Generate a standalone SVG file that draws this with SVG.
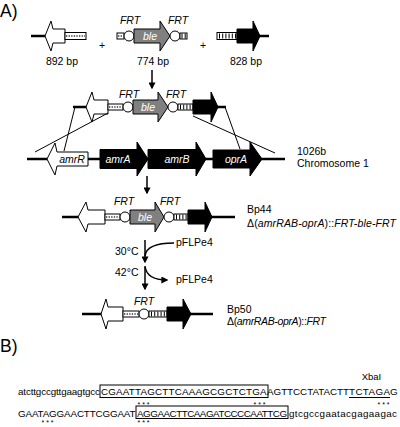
<svg xmlns="http://www.w3.org/2000/svg" width="400" height="427" viewBox="0 0 400 427">
<style>
.thick{stroke:#000;stroke-width:2.5;fill:none}
.thin{stroke:#000;stroke-width:1;fill:none}
.wh{fill:#fff;stroke:#000;stroke-width:1}
.bk{fill:#000;stroke:#000;stroke-width:1}
.gr{fill:#808080;stroke:#000;stroke-width:1}
.dots{stroke:#333;stroke-width:1.6;stroke-dasharray:1.3 1.3;fill:none}
.ladder{stroke:#000;stroke-width:5;stroke-dasharray:1 2.2;fill:none}
.arr{stroke:#000;stroke-width:1.5;fill:none}
text{font-family:"Liberation Sans",Arial,sans-serif;font-size:10.5px;fill:#000}
.it{font-style:italic}
.w{fill:#fff}
.mid{text-anchor:middle}
.big{font-size:17.5px}
.seq{font-size:9.8px}
.star{font-size:7px;text-anchor:middle}
</style>
<defs>
<marker id="ah" viewBox="0 0 10 10" refX="8" refY="5" markerWidth="7" markerHeight="7" markerUnits="userSpaceOnUse" orient="auto"><path d="M0,0 L10,5 L0,10 Z" fill="#000"/></marker>
</defs>

<text class="big" x="0" y="17">A)</text>

<g id="frag892">
<line class="thick" x1="31" y1="36" x2="47" y2="36"/>
<path class="wh" d="M65,29 L53,29 L51,21 L45,36 L51,51 L53,43 L65,43 Z"/>
<rect class="wh" x="65" y="32.5" width="21" height="7"/>
<line class="dots" x1="66" y1="36" x2="85" y2="36"/>
<text class="mid" x="62" y="65">892 bp</text>
</g>

<text class="mid" x="102" y="48.5">+</text>

<g id="frag774">
<rect class="wh" x="117" y="33" width="7" height="6"/>
<line class="dots" x1="118" y1="36" x2="123" y2="36"/>
<circle class="wh" cx="129" cy="36" r="5"/>
<path class="gr" d="M134,29 L160,29 L160,21 L170,36 L160,51 L160,43 L134,43 Z"/>
<circle class="wh" cx="175" cy="36" r="5"/>
<rect class="wh" x="180" y="33" width="7" height="6"/>
<line class="ladder" x1="181.5" y1="36" x2="187" y2="36"/>
<text class="it mid" x="130" y="24">FRT</text>
<text class="it mid" x="178" y="24">FRT</text>
<text class="it w mid" x="150" y="39.5">ble</text>
<text class="mid" x="153" y="65">774 bp</text>
</g>

<text class="mid" x="203" y="48.5">+</text>

<g id="frag828">
<rect class="wh" x="217" y="32.5" width="20" height="7"/>
<line class="ladder" x1="219" y1="36" x2="237" y2="36"/>
<path class="bk" d="M237,29 L253,29 L253,21 L260,36 L253,51 L253,43 L237,43 Z"/>
<line class="thick" x1="259" y1="36" x2="269" y2="36"/>
<text class="mid" x="246" y="65">828 bp</text>
</g>

<g id="construct">
<line class="thick" x1="73" y1="107" x2="88" y2="107"/>
<path class="wh" d="M108,100 L94,100 L92,92 L86,107 L92,122 L94,114 L108,114 Z"/>
<rect class="wh" x="108" y="104" width="15" height="6"/>
<line class="dots" x1="109" y1="107" x2="122" y2="107"/>
<circle class="wh" cx="128" cy="107" r="5"/>
<path class="gr" d="M133,100 L158,100 L158,92 L168,107 L158,122 L158,114 L133,114 Z"/>
<circle class="wh" cx="173" cy="107" r="5"/>
<rect class="wh" x="178" y="104" width="15" height="6"/>
<line class="ladder" x1="180" y1="107" x2="193" y2="107"/>
<path class="bk" d="M193,100 L211,100 L211,92 L218,107 L211,122 L211,114 L193,114 Z"/>
<line class="thick" x1="217" y1="107" x2="226" y2="107"/>
<text class="it mid" x="129" y="98">FRT</text>
<text class="it mid" x="176" y="98">FRT</text>
<text class="it w mid" x="148" y="110.5">ble</text>
</g>

<g id="connectors">
<line class="thin" x1="75" y1="107" x2="64" y2="151"/>
<line class="thin" x1="108" y1="113" x2="35" y2="152"/>
<line class="thin" x1="225" y1="107" x2="240" y2="149"/>
<line class="thin" x1="193" y1="116" x2="275" y2="153"/>
<line class="arr" x1="152" y1="70" x2="152" y2="88" marker-end="url(#ah)"/>
<line class="arr" x1="147" y1="176" x2="147" y2="193" marker-end="url(#ah)"/>
<line class="arr" x1="145" y1="240" x2="145" y2="262" marker-end="url(#ah)"/>
<line class="arr" x1="145" y1="267" x2="145" y2="289" marker-end="url(#ah)"/>
<path class="arr" d="M174,243 C156,243 146,247 145,256"/>
<path class="arr" d="M145,266 C146,276 154,280 167,280" marker-end="url(#ah)"/>
</g>

<g id="chromosome">
<line class="thick" x1="27" y1="159" x2="285" y2="159"/>
<path class="wh" d="M88,152 L57,152 L55,143 L47,159 L55,175 L57,166 L88,166 Z"/>
<path class="bk" d="M100,149.5 L137,149.5 L137,142 L148,159 L137,176 L137,168.5 L100,168.5 Z"/>
<path class="bk" d="M148,149.5 L196,149.5 L196,142 L206,159 L196,176 L196,168.5 L148,168.5 Z"/>
<path class="bk" d="M213,150 L250,150 L250,142 L262,159 L250,176 L250,168 L213,168 Z"/>
<text class="it mid" x="72" y="162.5">amrR</text>
<text class="it w mid" x="118" y="162.5">amrA</text>
<text class="it w mid" x="177" y="162.5">amrB</text>
<text class="it w mid" x="236" y="162.5">oprA</text>
<text x="297" y="155">1026b</text>
<text x="297" y="167">Chromosome 1</text>
</g>

<g id="bp44">
<line class="thick" x1="62" y1="217" x2="80" y2="217"/>
<path class="wh" d="M105,210 L88,210 L86,202 L78,217 L86,232 L88,224 L105,224 Z"/>
<rect class="wh" x="105" y="214" width="15" height="6"/>
<line class="dots" x1="106" y1="217" x2="119" y2="217"/>
<circle class="wh" cx="125" cy="217" r="5"/>
<path class="gr" d="M130,210 L155,210 L155,202 L164,217 L155,232 L155,224 L130,224 Z"/>
<circle class="wh" cx="169" cy="217" r="5"/>
<rect class="wh" x="174" y="214" width="14" height="6"/>
<line class="ladder" x1="176" y1="217" x2="188" y2="217"/>
<path class="bk" d="M188,210 L205,210 L205,202 L212,217 L205,232 L205,224 L188,224 Z"/>
<line class="thick" x1="211" y1="217" x2="235" y2="217"/>
<text class="it mid" x="124" y="205">FRT</text>
<text class="it mid" x="170" y="205">FRT</text>
<text class="it w mid" x="145" y="220.5">ble</text>
<text x="247" y="213">Bp44</text>
<text x="247" y="227" textLength="149">Δ(<tspan class="it">amrRAB-oprA</tspan>)::<tspan class="it">FRT-ble-FRT</tspan></text>
</g>

<g id="flp">
<text x="115" y="255">30°C</text>
<text x="115" y="276">42°C</text>
<text x="176" y="246">pFLPe4</text>
<text x="176" y="283">pFLPe4</text>
</g>

<g id="bp50">
<line class="thick" x1="82" y1="314" x2="103" y2="314"/>
<path class="wh" d="M123,307 L108,307 L106,299 L101,314 L106,329 L108,321 L123,321 Z"/>
<rect class="wh" x="123" y="311" width="16" height="6"/>
<line class="dots" x1="124" y1="314" x2="138" y2="314"/>
<circle class="wh" cx="144" cy="314" r="5"/>
<rect class="wh" x="149" y="311" width="18" height="6"/>
<line class="ladder" x1="151" y1="314" x2="167" y2="314"/>
<path class="bk" d="M167,307 L183,307 L183,299 L191,314 L183,329 L183,321 L167,321 Z"/>
<line class="thick" x1="190" y1="314" x2="213" y2="314"/>
<text class="it mid" x="144" y="304.5">FRT</text>
<text x="227" y="313">Bp50</text>
<text x="227" y="325" textLength="99">Δ(<tspan class="it">amrRAB-oprA</tspan>)::<tspan class="it">FRT</tspan></text>
</g>

<text class="big" x="0" y="352">B)</text>

<g id="sequence">
<text class="mid" x="371.5" y="380" style="font-size:9.5px">XbaI</text>
<text class="seq" x="18" y="395" textLength="82">atcttgccgttgaagtgcc</text>
<text class="seq" x="101" y="395" textLength="165.5">CGAATTAGCTTCAAAGCGCTCTGA</text>
<text class="seq" x="267" y="395" textLength="82">AGTTCCTATACTT</text>
<text class="seq" x="349" y="395" textLength="41">TCTAGA</text>
<text class="seq" x="390" y="395">G</text>
<rect class="thin" x="100" y="385" width="168" height="12.5"/>
<line class="thin" x1="349" y1="397.5" x2="390" y2="397.5"/>
<text class="star" x="143.5" y="406.5">* * *</text>
<text class="star" x="259.5" y="406.5">* * *</text>
<text class="star" x="383.5" y="406.5">* * *</text>
<text class="seq" x="18" y="417" textLength="117.5">GAATAGGAACTTCGGAAT</text>
<text class="seq" x="137" y="417" textLength="150">AGGAACTTCAAGATCCCCAATTCG</text>
<text class="seq" x="289" y="417" textLength="108">gtcgccgaatacgagaagac</text>
<rect class="thin" x="136" y="406" width="152" height="12.5"/>
<text class="star" x="47.5" y="425">* * *</text>
<text class="star" x="143.5" y="425">* * *</text>
</g>
</svg>
